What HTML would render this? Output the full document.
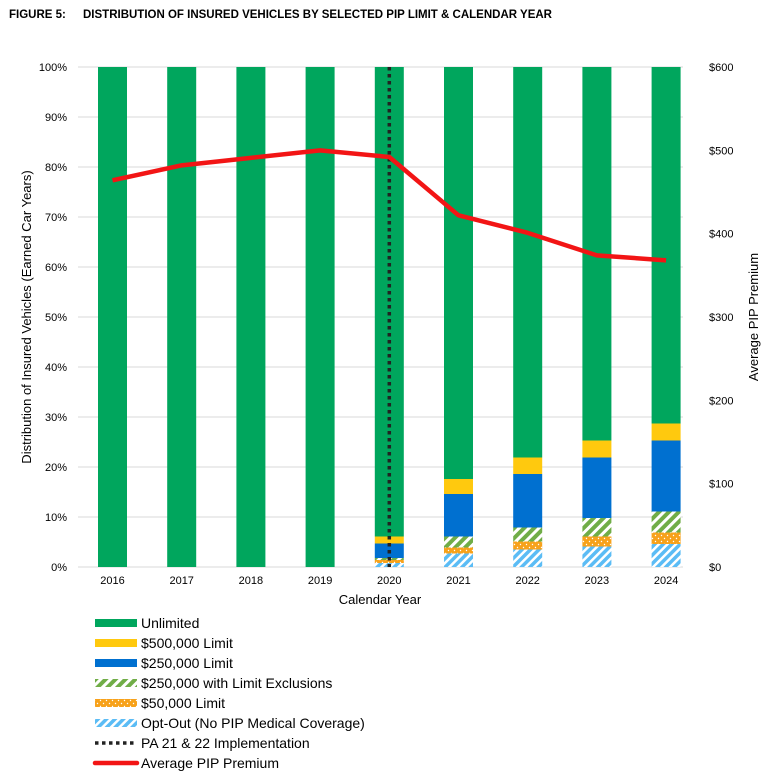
<!DOCTYPE html>
<html><head><meta charset="utf-8"><style>
body{margin:0;background:#fff;width:780px;height:779px;overflow:hidden;font-family:"Liberation Sans",Arial,sans-serif}
svg text{font-family:"Liberation Sans",Arial,sans-serif}
</style></head><body>
<svg id="chart" width="780" height="779" xmlns="http://www.w3.org/2000/svg">
<defs>
<pattern id="pExcl" patternUnits="userSpaceOnUse" width="7" height="7" patternTransform="rotate(45)"><rect width="7" height="7" fill="#fff"/><rect width="4" height="7" fill="#70ad47"/></pattern>
<pattern id="pFifty" patternUnits="userSpaceOnUse" width="6" height="6"><rect width="6" height="6" fill="#f7a21b"/><circle cx="1.5" cy="1.5" r="0.7" fill="#fff"/><circle cx="4.5" cy="4.5" r="0.7" fill="#fff"/></pattern>
<pattern id="pOpt" patternUnits="userSpaceOnUse" width="6" height="6" patternTransform="rotate(45)"><rect width="6" height="6" fill="#fff"/><rect width="3.5" height="6" fill="#5bbcf5"/></pattern>
</defs>
<text x="9" y="18" font-size="11.5" font-weight="bold">FIGURE 5:</text>
<text x="83" y="18" font-size="11.5" font-weight="bold">DISTRIBUTION OF INSURED VEHICLES BY SELECTED PIP LIMIT &amp; CALENDAR YEAR</text>
<g id="grid"></g><g id="bars"></g><g id="lines"></g><g id="axes"></g><g id="legend"></g>
</svg>
<script>
const years=["2016","2017","2018","2019","2020","2021","2022","2023","2024"];
const optOut=[0,0,0,0,0.8,2.7,3.5,4.1,4.6];
const fifty=[0,0,0,0,0.6,1.2,1.6,2.0,2.3];
const excl=[0,0,0,0,0.4,2.2,2.8,3.7,4.2];
const l250=[0,0,0,0,2.9,8.5,10.7,12.1,14.2];
const l500=[0,0,0,0,1.4,3.0,3.3,3.4,3.4];
const premium=[464,482,491,500,492,422,401,374,368];
const leftTicks=[0,10,20,30,40,50,60,70,80,90,100];
const rightTicks=[0,100,200,300,400,500,600];
const implYear="2020";
const NS="http://www.w3.org/2000/svg";
const x0=78,x1=683,yB=567,yT=67;
const xC=i=>112.5+i*69.2;
const yP=v=>yB-(v/100)*(yB-yT);
const yR=v=>yB-(v/600)*(yB-yT);
function mk(tag,at,parent){const e=document.createElementNS(NS,tag);for(const k in at)e.setAttribute(k,at[k]);document.getElementById(parent).appendChild(e);return e;}
leftTicks.forEach(t=>{
 const l=mk('line',{x1:x0,x2:x1,y1:yP(t),y2:yP(t),stroke:'#d9d9d9','stroke-width':1},'grid');
 
 
 const tx=mk('text',{x:67,y:yP(t)+4,'font-size':11,'text-anchor':'end'},'axes');tx.textContent=t+'%';
 
 
});
rightTicks.forEach(t=>{
 const tx=mk('text',{x:709,y:yR(t)+4,'font-size':11},'axes');tx.textContent='$'+t;
 
 
});
const series=[[optOut,'url(#pOpt)','opt-out'],[fifty,'url(#pFifty)','50k'],[excl,'url(#pExcl)','250k-excl'],[l250,'#0070d0','250k'],[l500,'#ffc90e','500k']];
years.forEach((y,i)=>{
 let acc=0;
 series.forEach(s=>{const v=s[0][i];
  const r=mk('rect',{x:xC(i)-14.5,width:29,y:yP(acc+v),height:yP(acc)-yP(acc+v),fill:s[1]},'bars');
  
  
  acc+=v;});
 const r=mk('rect',{x:xC(i)-14.5,width:29,y:yP(100),height:yP(acc)-yP(100),fill:'#00a65d'},'bars');
 
 
 const tx=mk('text',{x:xC(i),y:584,'font-size':11,'text-anchor':'middle'},'axes');tx.textContent=y;
 
 
});
const ii=years.indexOf(implYear);
const dl=mk('line',{x1:xC(ii),x2:xC(ii),y1:yT,y2:yB,stroke:'#222','stroke-width':3.5,'stroke-dasharray':'3.5 3.5'},'lines');


const pl=mk('polyline',{points:premium.map((v,i)=>xC(i)+','+yR(v)).join(' '),fill:'none',stroke:'#f21515','stroke-width':4.5,'stroke-linejoin':'round'},'lines');


let t=mk('text',{x:380,y:604,'font-size':13,'text-anchor':'middle'},'axes');t.textContent='Calendar Year';


t=mk('text',{x:0,y:0,'font-size':13,'text-anchor':'middle',transform:'translate(31,317) rotate(-90)'},'axes');t.textContent='Distribution of Insured Vehicles (Earned Car Years)';


t=mk('text',{x:0,y:0,'font-size':13,'text-anchor':'middle',transform:'translate(758,317) rotate(-90)'},'axes');t.textContent='Average PIP Premium';


const leg=[['Unlimited','#00a65d','r'],['$500,000 Limit','#ffc90e','r'],['$250,000 Limit','#0070d0','r'],['$250,000 with Limit Exclusions','url(#pExcl)','r'],['$50,000 Limit','url(#pFifty)','r'],['Opt-Out (No PIP Medical Coverage)','url(#pOpt)','r'],['PA 21 & 22 Implementation','#222','d'],['Average PIP Premium','#f21515','l']];
leg.forEach((e,k)=>{const cy=623+k*20;
 let s;
 if(e[2]==='r')s=mk('rect',{x:95,y:cy-4,width:42,height:8,fill:e[1]},'legend');
 else if(e[2]==='d')s=mk('line',{x1:95,x2:137,y1:cy,y2:cy,stroke:e[1],'stroke-width':3.5,'stroke-dasharray':'3.5 3.5'},'legend');
 else s=mk('line',{x1:95,x2:137,y1:cy,y2:cy,stroke:e[1],'stroke-width':4.5,'stroke-linecap':'round'},'legend');
 
 
 const tx=mk('text',{x:141,y:cy+5,'font-size':14},'legend');tx.textContent=e[0];
 
 
});
</script>
</body></html>
